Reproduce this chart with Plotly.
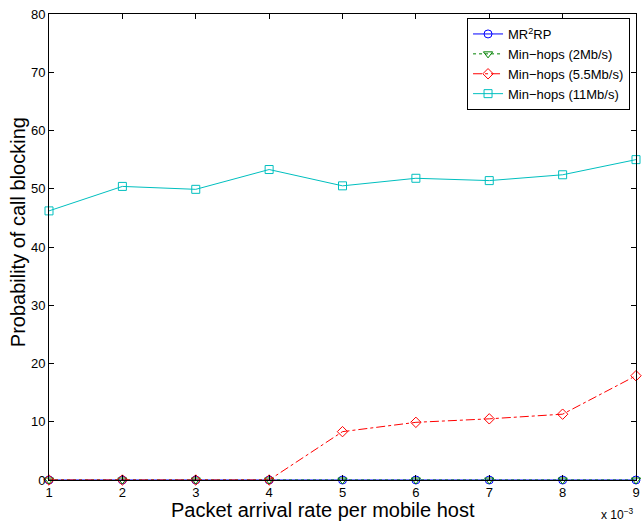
import plotly.graph_objects as go

# Packet arrival rate per mobile host (x 10^-3)
arrival_rate = [1, 2, 3, 4, 5, 6, 7, 8, 9]

# Probability of call blocking (%)
mr2rp = [0, 0, 0, 0, 0, 0, 0, 0, 0]
minhops_2 = [0, 0, 0, 0, 0, 0, 0, 0, 0]
minhops_5_5 = [0, 0, 0, 0, 8.3, 9.9, 10.5, 11.3, 17.9]
minhops_11 = [46.2, 50.4, 49.9, 53.3, 50.5, 51.8, 51.4, 52.4, 55.0]

x_ticks = [1, 2, 3, 4, 5, 6, 7, 8, 9]
y_ticks = [0, 10, 20, 30, 40, 50, 60, 70, 80]

FONT = "Liberation Sans, Arial, Helvetica, sans-serif"

series = [
    ("MR<sup>2</sup>RP", mr2rp, "#0000ff", "solid", "circle-open"),
    ("Min\u2212hops (2Mb/s)", minhops_2, "#008000", "dot", "triangle-down-open"),
    ("Min\u2212hops (5.5Mb/s)", minhops_5_5, "#ff0000", "dashdot", "diamond-open"),
    ("Min\u2212hops (11Mb/s)", minhops_11, "#00bfbf", "solid", "square-open"),
]

fig = go.Figure()
for name, vals, color, dash, symbol in series:
    fig.add_trace(go.Scatter(
        x=arrival_rate, y=vals, name=name, mode="lines+markers",
        line=dict(color=color, width=1, dash=dash),
        marker=dict(symbol=symbol, size=8, color=color, line=dict(width=1, color=color)),
        cliponaxis=False,
    ))

axis_common = dict(
    showline=True, linecolor="black", linewidth=1, mirror="ticks",
    ticks="inside", ticklen=5, tickcolor="black", showgrid=False, zeroline=False,
    tickfont=dict(family=FONT, size=13, color="black"),
)

fig.update_layout(
    width=644, height=524,
    margin=dict(l=49, r=4, t=14, b=44),
    paper_bgcolor="white", plot_bgcolor="white",
    font=dict(family=FONT, color="black"),
    showlegend=True,
    legend=dict(
        x=(634 - 49) / 591, y=(480 - 18) / 466, xanchor="right", yanchor="top",
        bgcolor="white", bordercolor="black", borderwidth=1,
        font=dict(family=FONT, size=13, color="black"),
        tracegroupgap=0, itemwidth=30,
    ),
    xaxis=dict(range=[1, 9], tickvals=x_ticks, ticktext=[str(v) for v in x_ticks], **axis_common),
    yaxis=dict(range=[0, 80], tickvals=y_ticks, ticktext=[str(v) for v in y_ticks], **axis_common),
    annotations=[
        dict(text="Packet arrival rate per mobile host", xref="paper", yref="paper",
             x=(325 - 49) / 591, y=-30 / 466, xanchor="center", yanchor="middle",
             showarrow=False, font=dict(family=FONT, size=20, color="black")),
        dict(text="Probability of call blocking", xref="paper", yref="paper",
             x=-31 / 591, y=(480 - 232) / 466, xanchor="center", yanchor="middle",
             textangle=-90, showarrow=False, font=dict(family=FONT, size=20, color="black")),
        dict(text="x 10<sup>\u22123</sup>", xref="paper", yref="paper",
             x=1.0, y=-34 / 466, xanchor="right", yanchor="middle",
             showarrow=False, font=dict(family=FONT, size=12, color="black")),
    ],
)

fig.write_html("out.html")
